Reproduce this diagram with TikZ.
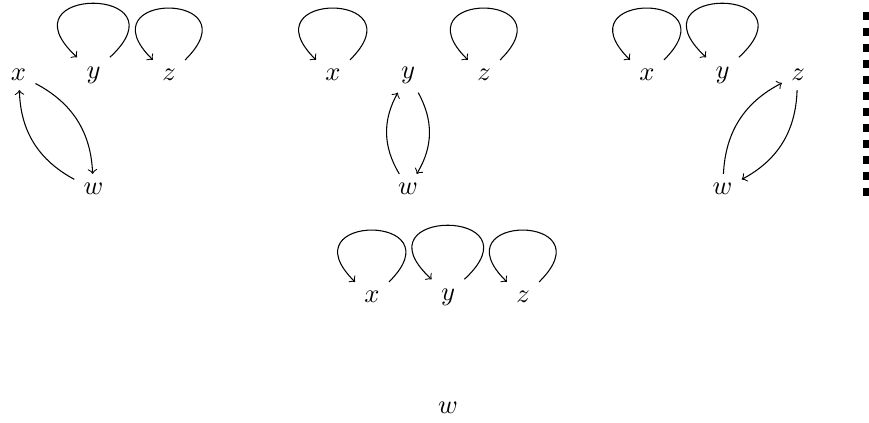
\documentclass[tikz,border=0pt]{standalone}
\begin{document}
\begin{tikzpicture}[x=0.013245cm, y=0.013245cm,
  v/.style={inner sep=.3333em},
  con/.style={->},
  arc/.style={bend left=30},
  loopsmall/.style={to path={.. controls +(70,69) and +(-70,69) .. (\tikztotarget)}},
  loopbig/.style={to path={.. controls +(78,72) and +(-78,72) .. (\tikztotarget)}},
  sep/.style={line width=2.26pt, dash pattern=on 3.01pt off 3.01pt}]
\useasboundingbox (0,0) rectangle (869,-423);
% group 1
\node[v] (x1) at (18.5,-75) {$x$};
\node[v] (y1) at (93.5,-75) {$y$};
\node[v] (z1) at (169,-75) {$z$};
\node[v] (w1) at (93.5,-189) {$w$};
\draw[con] (y1.north east) to[loopbig] (y1.north west);
\draw[con] (z1.north east) to[loopsmall] (z1.north west);
\draw[con] (x1) to[arc] (w1);
\draw[con] (w1) to[arc] (x1);
% group 2
\node[v] (x2) at (333,-75) {$x$};
\node[v] (y2) at (408,-75) {$y$};
\node[v] (z2) at (484,-75) {$z$};
\node[v] (w2) at (408,-189) {$w$};
\draw[con] (x2.north east) to[loopsmall] (x2.north west);
\draw[con] (z2.north east) to[loopsmall] (z2.north west);
\draw[con] (y2) to[arc] (w2);
\draw[con] (w2) to[arc] (y2);
% group 3
\node[v] (x3) at (647,-75) {$x$};
\node[v] (y3) at (722.5,-75) {$y$};
\node[v] (z3) at (798,-75) {$z$};
\node[v] (w3) at (722.5,-189) {$w$};
\draw[con] (x3.north east) to[loopsmall] (x3.north west);
\draw[con] (y3.north east) to[loopbig] (y3.north west);
\draw[con] (w3) to[arc] (z3);
\draw[con] (z3) to[arc] (w3);
% group 4
\node[v] (x4) at (372,-297) {$x$};
\node[v] (y4) at (448,-297) {$y$};
\node[v] (z4) at (523,-297) {$z$};
\node[v] (w4) at (448,-408) {$w$};
\draw[con] (x4.north east) to[loopsmall] (x4.north west);
\draw[con] (y4.north east) to[loopbig] (y4.north west);
\draw[con] (z4.north east) to[loopsmall] (z4.north west);
% separator
\coordinate (s1) at (866,-12);
\coordinate (s2) at (866,-196);
\draw[sep] (s1) -- (s2);
\end{tikzpicture}
\end{document}
